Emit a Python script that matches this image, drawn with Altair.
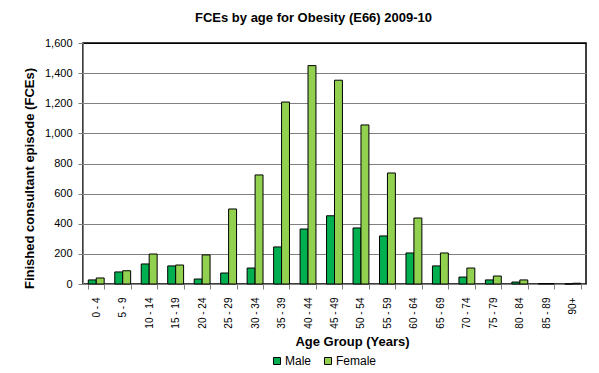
import altair as alt
import pandas as pd

age_groups = ["0 - 4", "5 - 9", "10 - 14", "15 - 19", "20 - 24", "25 - 29", "30 - 34",
              "35 - 39", "40 - 44", "45 - 49", "50 - 54", "55 - 59", "60 - 64", "65 - 69",
              "70 - 74", "75 - 79", "80 - 84", "85 - 89", "90+"]
male = [27, 80, 133, 120, 33, 73, 106, 246, 365, 453, 372, 319, 206, 120, 46, 27, 13, 3, 0]
female = [40, 88, 199, 126, 193, 498, 724, 1208, 1450, 1353, 1056, 737, 438, 206, 106, 53, 27, 3, 5]
series = ["Male", "Female"]
colors = ["#00B050", "#92D050"]

rows = []
for i, g in enumerate(age_groups):
    rows.append({"age": g, "sex": "Male", "fces": male[i]})
    rows.append({"age": g, "sex": "Female", "fces": female[i]})
df = pd.DataFrame(rows)

FONT = "Arial, Liberation Sans, sans-serif"

chart = alt.Chart(df).mark_bar(stroke="black", strokeWidth=1).encode(
    x=alt.X("age:N", sort=age_groups,
            scale=alt.Scale(paddingInner=0.4, paddingOuter=0.2),
            axis=alt.Axis(title="Age Group (Years)", labelAngle=-90, labelAlign="right",
                          labelBaseline="middle", labelFontSize=10, labelPadding=8,
                          labelColor="black", labelFont=FONT,
                          tickBand="extent", tickColor="#808080", tickSize=5,
                          domainColor="#808080", grid=False,
                          titleFont=FONT, titleFontSize=13, titleFontWeight="bold",
                          titleColor="black", titleX=269, titleY=57,
                          titleAlign="center", titleBaseline="middle")),
    xOffset=alt.XOffset("sex:N", sort=series,
                        scale=alt.Scale(domain=series, paddingInner=0, paddingOuter=0)),
    y=alt.Y("fces:Q", scale=alt.Scale(domain=[0, 1600], nice=False),
            axis=alt.Axis(title="Finished consultant episode (FCEs)",
                          values=[0, 200, 400, 600, 800, 1000, 1200, 1400, 1600],
                          format=",d", labelFontSize=11, labelFont=FONT, labelColor="black",
                          labelPadding=6, tickColor="#808080", tickSize=5,
                          domainColor="#808080",
                          gridColor=alt.condition("datum.value == 1600", alt.value("black"), alt.value("#808080")),
                          titleFont=FONT, titleFontSize=13, titleFontWeight="bold",
                          titleColor="black", titleAngle=270, titleX=-54, titleY=135,
                          titleAlign="center", titleBaseline="middle")),
    color=alt.Color("sex:N", sort=series,
                    scale=alt.Scale(domain=series, range=colors),
                    legend=alt.Legend(title=None, orient="none", direction="horizontal",
                                      legendX=188, legendY=312,
                                      symbolType="square", symbolSize=49,
                                      symbolStrokeColor="black", symbolStrokeWidth=1,
                                      symbolOpacity=1,
                                      labelFont=FONT, labelFontSize=12, labelColor="black",
                                      labelOffset=2)),
).properties(
    width=503, height=241,
    padding={"left": 75, "top": 35, "right": 5, "bottom": 88},
    autosize=alt.AutoSizeParams(type="none"),
    title=alt.TitleParams("FCEs by age for Obesity (E66) 2009-10", font=FONT, fontSize=13,
                          fontWeight="bold", color="black", anchor="middle", frame="group",
                          dx=-21, offset=12),
).configure_view(stroke="black", strokeWidth=1.5).configure_legend(columnPadding=10)

chart.save("out.html", embed_options={"renderer": "svg", "actions": False})
